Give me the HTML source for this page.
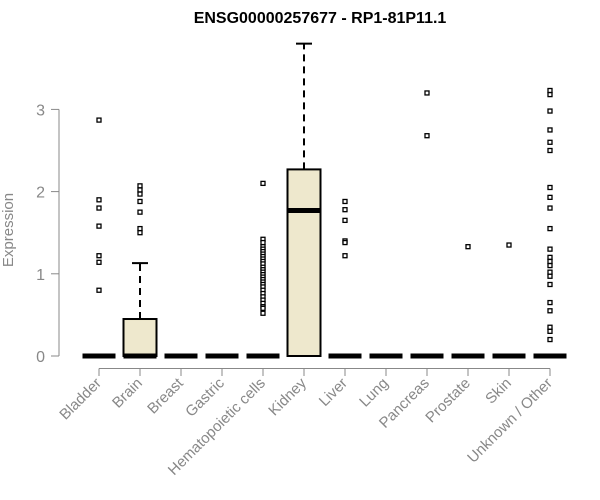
<!DOCTYPE html>
<html><head><meta charset="utf-8"><style>
html,body{margin:0;padding:0;background:#fff;}
svg{display:block;font-family:"Liberation Sans",Arial,sans-serif;}
</style></head><body>
<svg id="chart" width="600" height="500" viewBox="0 0 600 500">
<text x="320" y="23" text-anchor="middle" font-size="16" font-weight="bold" fill="#000">ENSG00000257677 - RP1-81P11.1</text>
<text transform="translate(13,230) rotate(-90)" text-anchor="middle" font-size="15" fill="#888">Expression</text>
<g id="yaxis"></g>
<g id="xaxis"></g>
<g id="plot"></g>
</svg>
<script>
const categories = ["Bladder","Brain","Breast","Gastric","Hematopoietic cells","Kidney","Liver","Lung","Pancreas","Prostate","Skin","Unknown / Other"];
const q1 = [0,0,0,0,0,0,0,0,0,0,0,0];
const medians = [0,0,0,0,0,1.77,0,0,0,0,0,0];
const q3 = [0,0.45,0,0,0,2.27,0,0,0,0,0,0];
const whiskerHigh = [0,1.13,0,0,0,3.8,0,0,0,0,0,0];
const outliers = [
 [2.87,1.9,1.8,1.58,1.22,1.14,0.8],
 [2.07,2.02,1.97,1.88,1.75,1.55,1.5],
 [],
 [],
 [2.1,1.42,1.38,1.33,1.3,1.27,1.24,1.21,1.18,1.15,1.12,1.08,1.05,1.02,0.99,0.96,0.93,0.9,0.87,0.84,0.8,0.76,0.72,0.68,0.64,0.6,0.58,0.52],
 [],
 [1.88,1.78,1.65,1.4,1.38,1.22],
 [],
 [3.2,2.68],
 [1.33],
 [1.35],
 [3.23,3.18,2.98,2.75,2.6,2.5,2.05,1.93,1.8,1.55,1.3,1.2,1.15,1.1,1.02,0.97,0.87,0.65,0.55,0.35,0.3,0.2]
];
const yTicks = [0,1,2,3];

const NS="http://www.w3.org/2000/svg";
function y(v){return 356 - v*82.2;}
function x(i){return 99 + i*41.0;}
function mk(tag,attrs,parent){const e=document.createElementNS(NS,tag);for(const k in attrs)e.setAttribute(k,attrs[k]);parent.appendChild(e);return e;}
const ya=document.getElementById('yaxis'), xa=document.getElementById('xaxis'), pl=document.getElementById('plot');
const axisCol="#888";
let l=mk('line',{x1:59,x2:59,y1:y(yTicks[0]),y2:y(yTicks[yTicks.length-1]),stroke:axisCol,'stroke-width':1},ya);


yTicks.forEach(t=>{
  const tk=mk('line',{x1:51,x2:59,y1:y(t),y2:y(t),stroke:axisCol},ya);
  
  
  const tx=mk('text',{x:45,y:y(t)+6,'text-anchor':'end','font-size':16,fill:axisCol},ya);
  tx.textContent=t;
  
  
});
l=mk('line',{x1:x(0),x2:x(categories.length-1),y1:368.5,y2:368.5,stroke:axisCol},xa);


const hw=16.5;
categories.forEach((c,i)=>{
  const cx=x(i);
  const tk=mk('line',{x1:cx,x2:cx,y1:368.5,y2:376,stroke:axisCol},xa);
  
  
  const tx=mk('text',{transform:`translate(${cx+3},${384}) rotate(-45)`,'text-anchor':'end','font-size':15,fill:axisCol},xa);
  tx.textContent=c;
  
  
  const g=mk('g',{},pl);
  
  
  if(whiskerHigh[i]>q3[i]){
    mk('line',{x1:cx,x2:cx,y1:y(q3[i]),y2:y(whiskerHigh[i]),stroke:'#000','stroke-width':2,'stroke-dasharray':'7,5'},g);
    mk('line',{x1:cx-8,x2:cx+8,y1:y(whiskerHigh[i]),y2:y(whiskerHigh[i]),stroke:'#000','stroke-width':2},g);
  }
  if(q3[i]>q1[i]){
    mk('rect',{x:cx-hw,y:y(q3[i]),width:2*hw,height:y(q1[i])-y(q3[i]),fill:'#EEE8CD',stroke:'#000','stroke-width':2},g);
  }
  mk('line',{x1:cx-hw,x2:cx+hw,y1:y(medians[i]),y2:y(medians[i]),stroke:'#000','stroke-width':5},g);
  outliers[i].forEach(v=>{
    const p=mk('rect',{x:cx-2,y:y(v)-2,width:4,height:4,fill:'#fff',stroke:'#000','stroke-width':1.3},g);
    
    
  });
});
</script>
</body></html>
